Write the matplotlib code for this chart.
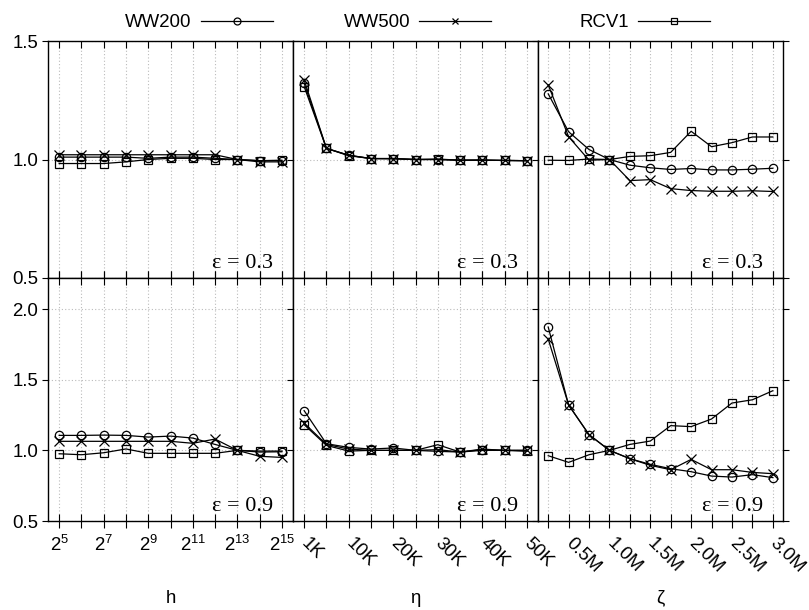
import matplotlib
matplotlib.use('Agg')
import matplotlib.pyplot as plt
import matplotlib.transforms as mtransforms
from matplotlib.lines import Line2D

plt.rcParams['font.family'] = ['Liberation Sans', 'DejaVu Sans']
plt.rcParams['mathtext.fontset'] = 'custom'
plt.rcParams['mathtext.rm'] = 'Liberation Sans'

# ---------------- data ----------------
series_names = ['WW200', 'WW500', 'RCV1']

h_exponents = [5, 6, 7, 8, 9, 10, 11, 12, 13, 14, 15]
eta_labels = ['1K', '5K', '10K', '15K', '20K', '25K', '30K', '35K', '40K', '45K', '50K']
zeta_labels = ['0.25M', '0.5M', '0.75M', '1.0M', '1.25M', '1.5M', '1.75M', '2.0M',
               '2.25M', '2.5M', '2.75M', '3.0M']
eps_labels = ['\u03b5 = 0.3', '\u03b5 = 0.9']
x_titles = ['h', '\u03b7', '\u03b6']

# epsilon = 0.3
h_ww200_e3 = [1.01, 1.01, 1.01, 1.01, 1.005, 1.01, 1.01, 1.005, 1.0, 0.995, 0.995]
h_ww500_e3 = [1.02, 1.02, 1.02, 1.02, 1.02, 1.02, 1.02, 1.02, 1.0, 0.99, 0.99]
h_rcv1_e3 = [0.983, 0.983, 0.983, 0.99, 1.0, 1.005, 1.005, 1.0, 1.0, 0.995, 0.997]

eta_ww200_e3 = [1.322, 1.047, 1.018, 1.004, 1.004, 1.0, 1.0, 0.997, 0.997, 0.996, 0.995]
eta_ww500_e3 = [1.336, 1.047, 1.018, 1.004, 1.004, 1.0, 1.0, 0.997, 0.997, 0.996, 0.995]
eta_rcv1_e3 = [1.308, 1.047, 1.016, 1.004, 1.003, 1.0, 1.002, 0.997, 0.998, 0.996, 0.995]

zeta_ww200_e3 = [1.277, 1.117, 1.042, 1.0, 0.976, 0.965, 0.958, 0.962, 0.956, 0.956, 0.959, 0.963]
zeta_ww500_e3 = [1.315, 1.096, 0.997, 1.0, 0.911, 0.915, 0.877, 0.869, 0.866, 0.866, 0.868, 0.865]
zeta_rcv1_e3 = [0.997, 0.996, 1.002, 1.0, 1.013, 1.016, 1.03, 1.119, 1.054, 1.071, 1.095, 1.095]

# epsilon = 0.9
h_ww200_e9 = [1.106, 1.106, 1.108, 1.106, 1.094, 1.101, 1.087, 1.042, 1.0, 0.988, 0.99]
h_ww500_e9 = [1.064, 1.064, 1.064, 1.064, 1.064, 1.064, 1.05, 1.08, 1.0, 0.958, 0.95]
h_rcv1_e9 = [0.976, 0.969, 0.983, 1.01, 0.979, 0.979, 0.979, 0.979, 1.0, 0.995, 0.995]

eta_ww200_e9 = [1.281, 1.047, 1.021, 1.009, 1.017, 1.0, 0.993, 0.988, 1.005, 1.0, 1.0]
eta_ww500_e9 = [1.193, 1.042, 1.009, 1.0, 1.0, 1.0, 1.005, 0.988, 1.009, 1.0, 1.0]
eta_rcv1_e9 = [1.182, 1.035, 0.995, 1.0, 1.0, 1.0, 1.04, 0.988, 1.0, 1.0, 0.993]

zeta_ww200_e9 = [1.873, 1.321, 1.111, 1.0, 0.941, 0.901, 0.87, 0.849, 0.818, 0.811, 0.828, 0.807]
zeta_ww500_e9 = [1.788, 1.321, 1.111, 1.0, 0.941, 0.894, 0.863, 0.936, 0.863, 0.863, 0.844, 0.835]
zeta_rcv1_e9 = [0.962, 0.915, 0.969, 1.0, 1.042, 1.066, 1.175, 1.168, 1.222, 1.335, 1.358, 1.422]

panels = [
    [[h_ww200_e3, h_ww500_e3, h_rcv1_e3],
     [eta_ww200_e3, eta_ww500_e3, eta_rcv1_e3],
     [zeta_ww200_e3, zeta_ww500_e3, zeta_rcv1_e3]],
    [[h_ww200_e9, h_ww500_e9, h_rcv1_e9],
     [eta_ww200_e9, eta_ww500_e9, eta_rcv1_e9],
     [zeta_ww200_e9, zeta_ww500_e9, zeta_rcv1_e9]],
]

# ---------------- layout / style ----------------
W, H = 809, 610
markers = ['o', 'x', 's']
col_x = [48, 293, 538, 783]
row_y = [(41, 278), (278, 521)]
ylims = [(0.5, 1.5), (0.5, 2.22)]
yticks = [[0.5, 1.0, 1.5], [0.5, 1.0, 1.5, 2.0]]
tick_fs = 13.4

h_ticklabels = ['$\\mathregular{2^{%d}}$' % e if i % 2 == 0 else '' for i, e in enumerate(h_exponents)]
eta_ticklabels = [l if i % 2 == 0 else '' for i, l in enumerate(eta_labels)]
zeta_ticklabels = [l if i % 2 == 1 else '' for i, l in enumerate(zeta_labels)]
tick_sets = [h_ticklabels, eta_ticklabels, zeta_ticklabels]

fig = plt.figure(figsize=(W / 100, H / 100), dpi=100)
shift = mtransforms.ScaledTranslation(-6 / 100, 0, fig.dpi_scale_trans)

for r in range(2):
    for c in range(3):
        x0, x1 = col_x[c], col_x[c + 1]
        y0, y1 = row_y[r]
        ax = fig.add_axes([x0 / W, (H - y1) / H, (x1 - x0) / W, (y1 - y0) / H])
        n = len(panels[r][c][0])
        xs = list(range(n))
        for s in range(3):
            ax.plot(xs, panels[r][c][s], color='black', lw=0.9, marker=markers[s],
                    markersize=6 if markers[s] != 'x' else 6.5, markerfacecolor='none',
                    markeredgecolor='black', markeredgewidth=0.9, clip_on=True)
        ax.set_xlim(-0.5, n - 0.5)
        ax.set_ylim(*ylims[r])
        ax.set_xticks(xs)
        ax.set_yticks(yticks[r])
        ax.grid(True, color='#bbbbbb', linestyle=(0, (1, 2)), linewidth=0.8)
        for sp in ax.spines.values():
            sp.set_color('black')
            sp.set_linewidth(1.0)
        ax.tick_params(axis='y', which='major', left=True, right=True, direction='out',
                       length=4, width=0.8, labelsize=tick_fs, pad=3)
        if c > 0:
            ax.tick_params(axis='y', labelleft=False)
        if r == 0:
            ax.tick_params(axis='x', top=True, bottom=True, direction='in', length=5,
                           width=0.8, labelbottom=False)
        else:
            ax.tick_params(axis='x', top=True, bottom=True, direction='inout', length=10,
                           width=0.8, labelsize=tick_fs, pad=5)
            if c == 0:
                ax.set_xticklabels(tick_sets[c])
            else:
                ax.set_xticklabels(tick_sets[c], rotation=-45, ha='left', va='top',
                                   rotation_mode='default')
                for lab in ax.get_xticklabels():
                    lab.set_transform(lab.get_transform() + shift)
        ax.text(0.92, 0.042, eps_labels[r], transform=ax.transAxes, ha='right',
                va='baseline', fontsize=16, family=['Liberation Serif', 'DejaVu Serif'])

# x-axis titles
for c in range(3):
    xc = (col_x[c] + col_x[c + 1]) / 2 / W
    fig.text(xc, 0.012, x_titles[c], ha='center', va='baseline', fontsize=tick_fs)

# legend (manual, gnuplot-style key)
line_w = 72
leg_y = 1 - 20.7 / H
for i, name in enumerate(series_names):
    lx0 = 200.7 + 218.5 * i
    fig.add_artist(Line2D([lx0 / W, (lx0 + line_w) / W], [leg_y, leg_y],
                          transform=fig.transFigure, color='black', lw=0.9))
    fig.add_artist(Line2D([(lx0 + line_w / 2) / W], [leg_y], transform=fig.transFigure,
                          marker=markers[i], markersize=5, markerfacecolor='none',
                          markeredgecolor='black', markeredgewidth=0.9, lw=0))
    fig.text((lx0 - 9) / W, leg_y, name, ha='right', va='center_baseline', fontsize=tick_fs)

fig.savefig('out.png', dpi=100)
